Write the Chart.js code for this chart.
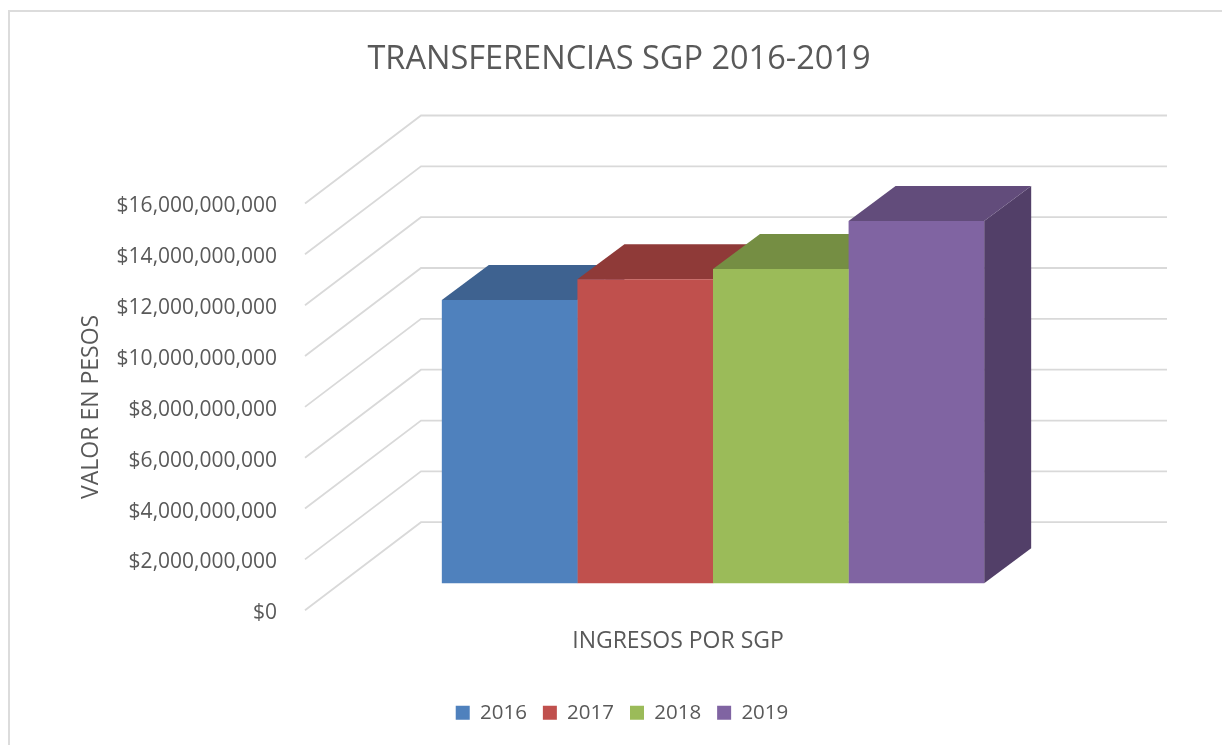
<!DOCTYPE html>
<html>
<head>
<meta charset="utf-8">
<title>Transferencias SGP</title>
<script src="https://cdn.jsdelivr.net/npm/chart.js@4"></script>
<style>
    html, body { margin: 0; padding: 0; background: #fff; overflow: hidden; }
    #frame { position: absolute; left: 8px; top: 10px; width: 1400px; height: 900px; border: 2px solid #dcdcdc; }
    #myChart { position: absolute; left: 0; top: 0; }
</style>
</head>
<body>
<div id="frame"><canvas id="myChart" width="1218" height="733"></canvas></div>
<script>
const categories = ['INGRESOS POR SGP'];
const years = ['2016', '2017', '2018', '2019'];
const values = [11140000000, 11960000000, 12360000000, 14250000000];
const frontColors = ['#4f81bd', '#c0504d', '#9bbb59', '#8064a2'];
const topColors = ['#3e6290', '#8f3a38', '#758e43', '#624c7b'];
const sideColors = ['#34507a', '#763230', '#5f7336', '#523f68'];
const tickStep = 2000000000;
const tickMax = 16000000000;

const textColor = '#595959';
const gridColor = '#d9d9d9';

// depth of the back wall, and where the bars stand on the floor
const wallX = 116, wallY = 88;
const barX = 35, barY = 27;
const barDepthX = 47, barDepthY = 35;

function money(v) {
    return '$' + Number(v).toLocaleString('en-US');
}

function poly(ctx, color, pts) {
    ctx.fillStyle = color;
    ctx.beginPath();
    pts.forEach((p, i) => i ? ctx.lineTo(p[0], p[1]) : ctx.moveTo(p[0], p[1]));
    ctx.closePath();
    ctx.fill();
}

const perspective = {
    id: 'perspective',
    // legend sits a little right of the centre in the original
    afterLayout(chart) {
        chart.legend.left += 3;
        chart.legend.right += 3;
    },
    beforeDatasetsDraw(chart) {
        const y = chart.scales.y;
        const ctx = chart.ctx;
        const left = chart.chartArea.left, right = chart.chartArea.right;
        ctx.save();

        // gridlines: side wall then back wall
        ctx.strokeStyle = gridColor;
        ctx.lineWidth = 1.8;
        y.ticks.forEach(t => {
            const py = y.getPixelForValue(t.value);
            ctx.beginPath();
            ctx.moveTo(left, py);
            ctx.lineTo(left + wallX, py - wallY);
            ctx.lineTo(right + wallX, py - wallY);
            ctx.stroke();
        });

        // top and side of each bar, first year first so later ones cover it
        ctx.translate(barX, -barY);
        years.forEach((year, i) => {
            const bar = chart.getDatasetMeta(i).data[0];
            const l = bar.x - bar.width / 2, r = bar.x + bar.width / 2;
            poly(ctx, sideColors[i], [[r, bar.y], [r + barDepthX, bar.y - barDepthY], [r + barDepthX, bar.base - barDepthY], [r, bar.base]]);
            poly(ctx, topColors[i], [[l, bar.y], [l + barDepthX, bar.y - barDepthY], [r + barDepthX, bar.y - barDepthY], [r, bar.y]]);
        });
        ctx.restore();
    },
    // the library draws the front of each bar, moved onto the floor
    beforeDatasetDraw(chart) {
        chart.ctx.save();
        chart.ctx.translate(barX, -barY);
    },
    afterDatasetDraw(chart) {
        chart.ctx.restore();
    }
};

const datasets = years.map((year, i) => ({
    label: year,
    data: [values[i]],
    backgroundColor: frontColors[i],
    borderWidth: 0,
    clip: false
}));

new Chart(document.getElementById('myChart'), {
    type: 'bar',
    data: { labels: categories, datasets: datasets },
    plugins: [perspective],
    options: {
        responsive: false,
        animation: false,
        layout: { padding: { left: 0, right: 0, top: 0, bottom: 12 } },
        datasets: { bar: { categoryPercentage: 0.727, barPercentage: 1 } },
        scales: {
            x: {
                grid: { display: false },
                border: { display: false },
                ticks: { display: false },
                title: {
                    display: true,
                    text: categories[0],
                    color: textColor,
                    font: { family: 'Open Sans', size: 23 },
                    padding: { top: 0, bottom: 31 }
                },
                afterFit(s) { s.height = 76.3; }
            },
            y: {
                min: 0,
                max: tickMax,
                grid: { display: false },
                border: { display: false },
                ticks: {
                    stepSize: tickStep,
                    padding: 20,
                    labelOffset: 3,
                    color: textColor,
                    font: { family: 'Open Sans', size: 21 },
                    callback: money
                },
                title: {
                    display: true,
                    text: 'VALOR EN PESOS',
                    color: textColor,
                    font: { family: 'Open Sans', size: 23 },
                    padding: { top: 68, bottom: 0 }
                },
                afterFit(s) { s.width = 295; }
            },
            // empty axis that keeps the space right of the plot free
            pad: {
                position: 'right',
                display: true,
                grid: { display: false },
                border: { display: false },
                ticks: { display: false },
                afterFit(s) { s.width = 177; }
            }
        },
        plugins: {
            title: {
                display: true,
                text: 'TRANSFERENCIAS SGP 2016-2019',
                color: textColor,
                font: { family: 'Open Sans', size: 32.5, weight: 'normal' },
                padding: { top: 28, bottom: 124.5 }
            },
            legend: {
                position: 'bottom',
                labels: {
                    color: textColor,
                    boxWidth: 14,
                    boxHeight: 14,
                    padding: 16,
                    font: { family: 'Open Sans', size: 20.5 }
                }
            },
            tooltip: { enabled: false }
        }
    }
});
</script>
</body>
</html>
